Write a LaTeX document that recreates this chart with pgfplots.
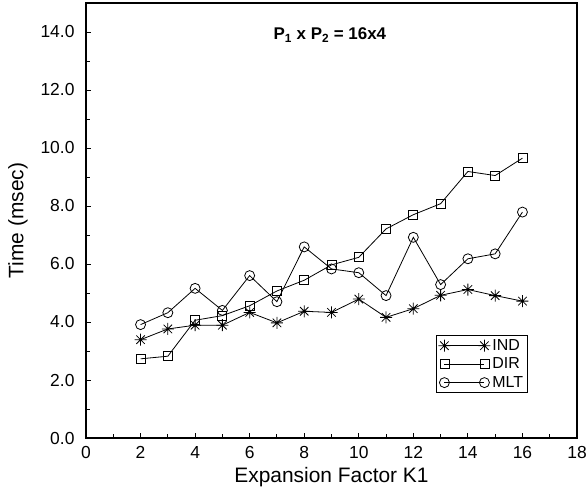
\documentclass[border=0pt]{standalone}
\usepackage{pgfplots}
\pgfplotsset{compat=1.18}
\usepackage{fontspec}
\setmainfont{Liberation Sans}

% eight-armed star, as in the original plot
\pgfdeclareplotmark{star8}{%
  \pgfpathmoveto{\pgfqpoint{-\pgfplotmarksize}{0pt}}%
  \pgfpathlineto{\pgfqpoint{\pgfplotmarksize}{0pt}}%
  \pgfpathmoveto{\pgfqpoint{0pt}{-\pgfplotmarksize}}%
  \pgfpathlineto{\pgfqpoint{0pt}{\pgfplotmarksize}}%
  \pgfpathmoveto{\pgfqpoint{-0.707\pgfplotmarksize}{-0.707\pgfplotmarksize}}%
  \pgfpathlineto{\pgfqpoint{0.707\pgfplotmarksize}{0.707\pgfplotmarksize}}%
  \pgfpathmoveto{\pgfqpoint{-0.707\pgfplotmarksize}{0.707\pgfplotmarksize}}%
  \pgfpathlineto{\pgfqpoint{0.707\pgfplotmarksize}{-0.707\pgfplotmarksize}}%
  \pgfusepathqstroke}

\begin{document}
\begin{tikzpicture}
  \begin{axis}[
    name=ax,
    scale only axis,
    width=491bp, height=435bp,
    xmin=0, xmax=18, ymin=0, ymax=15,
    xtick={0,2,...,18}, ytick={0,2,...,14},
    minor x tick num=1, minor y tick num=1,
    tick align=inside, tick pos=left,
    major tick length=5bp, minor tick length=4bp,
    axis line style={line width=1.2bp},
    every tick/.style={black, line width=0.9bp},
    /pgf/number format/assume math mode=true,
    ticklabel style={font=\fontsize{17.5}{20}\selectfont},
    yticklabel style={xshift=-8bp, /pgf/number format/.cd, fixed, fixed zerofill, precision=1},
    xticklabel style={yshift=-5bp},
    xlabel style={at={([yshift=-39bp]rel axis cs:0.5,0)}, anchor=center,
      font=\fontsize{21}{25}\selectfont},
    ylabel style={at={([xshift=-68bp]rel axis cs:0,0.5)}, anchor=center,
      font=\fontsize{21}{25}\selectfont},
    xlabel={Expansion Factor K1},
    ylabel={Time (msec)},
    legend image code/.code={\draw[#1] plot coordinates {(0bp,0bp) (40bp,0bp)};},
    legend cell align=left,
    legend style={at={(axis cs:12.83,3.55)}, anchor=north west, draw=black,
      line width=0.9bp, font=\fontsize{16}{18}\selectfont, row sep=2bp,
      inner sep=2bp},
  ]
  \addplot[black, line width=0.8bp, mark=star8, mark size=6bp,
    mark options={line width=0.8bp}] coordinates {
    (2,3.39) (3,3.76) (4,3.89) (5,3.89) (6,4.33) (7,3.97) (8,4.37) (9,4.33)
    (10,4.79) (11,4.16) (12,4.46) (13,4.92) (14,5.12) (15,4.91) (16,4.72)
  };
  \addlegendentry{IND}
  \addplot[black, line width=0.8bp, mark=square, mark size=4.5bp,
    mark options={line width=0.8bp}] coordinates {
    (2,2.73) (3,2.82) (4,4.06) (5,4.22) (6,4.56) (7,5.07) (8,5.44) (9,5.97)
    (10,6.23) (11,7.21) (12,7.70) (13,8.08) (14,9.19) (15,9.05) (16,9.65)
  };
  \addlegendentry{DIR}
  \addplot[black, line width=0.8bp, mark=o, mark size=5bp,
    mark options={line width=0.8bp}] coordinates {
    (2,3.91) (3,4.32) (4,5.16) (5,4.40) (6,5.60) (7,4.70) (8,6.59) (9,5.83)
    (10,5.70) (11,4.91) (12,6.92) (13,5.29) (14,6.18) (15,6.35) (16,7.79)
  };
  \addlegendentry{MLT}
  \node[font=\bfseries\fontsize{17}{20}\selectfont] at (axis cs:8.94,13.9)
    {P\textsubscript{1} x P\textsubscript{2} = 16x4};
  \end{axis}
  \pgfresetboundingbox
  \path ([xshift=-86bp,yshift=-53bp]ax.south west) rectangle ([xshift=10bp,yshift=3bp]ax.north east);
\end{tikzpicture}
\end{document}
